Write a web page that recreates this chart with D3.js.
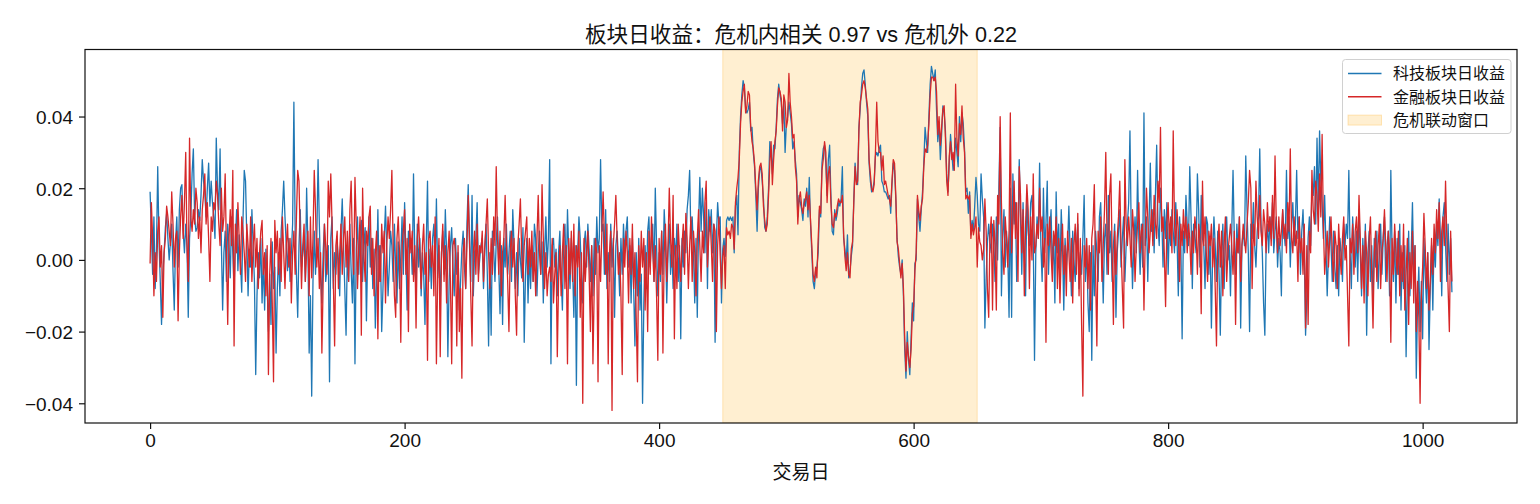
<!DOCTYPE html>
<html>
  <head>
    <meta charset="utf-8" />
    <title>板块日收益</title>
    <style>
      html,
      body {
        margin: 0;
        padding: 0;
        background: #fff;
      }
      svg text {
        font-family: 'Liberation Sans', 'Noto Sans CJK SC', sans-serif;
        fill: #111;
      }
    </style>
  </head>
  <body>
    <svg id="svg" width="1540" height="504"></svg>
    <script src="https://cdn.jsdelivr.net/npm/d3@7"></script>
    <script>
      // daily returns, in thousandths (‰), index = trading day
      const techPre = [
        19, 8, -4, 12, -8, 3, 26, 5, -6, -18, -4, 2, 9, 13, 6, 0, 5, 10, -3, -14,
        5, 12, -2, 14, 20, 21, 8, 2, 10, 4, -16, 6, 12, 24, 31, 12, 8, 9, 14, 11,
        18, 28, 22, 19, 12, 20, 27, 15, 22, 16, 12, 6, 34, 20, 14, 31, 5, -14, 2, 8,
        -6, 10, 4, -5, 12, 2, -8, 5, 14, -3, 7, 0, -9, 11, 25, 22, 6, -10, 3, -2,
        14, 4, -6, -32, -10, 2, -5, 6, -12, 0, -14, 3, -7, -20, -4, -18, 5, -8, -2, -26,
        -8, 2, -10, 8, 14, 22, 12, 4, -3, 6, -6, 2, 10, 44, 8, -4, -16, 4, 14, -2,
        2, 6, -6, 20, 4, -26, -10, -38, -6, 8, -4, 6, 28, 10, -4, -12, 2, 10, -6, -2,
        4, -34, 6, 12, -8, 2, -4, 5, 0, -10, 8, 17, 4, -8, -21, 2, -6, 10, -3, -12,
        6, -29, 3, 12, -4, 8, 11, -6, 4, 9, -17, 2, 12, -2, 6, -8, 3, -19, -4, 14,
        -6, 4, -20, -8, 6, 15, 2, -10, -2, 8, 4, -6, 10, -3, -12, 5, -8, 1, 12, -4,
        16, 2, -14, 8, 3, 6, -4, 24, 2, -8, 10, -2, 6, -10, 2, -4, -18, 4, 22, -6,
        3, -8, 6, 10, -2, 17, -5, 4, -12, 2, 8, -4, 14, 2, -27, -6, 4, 9, -2, -10,
        6, -4, 2, -14, -6, 3, 8, -2, -8, 10, 21, 4, -6, 18, -10, 2, 6, 16, -4, 0,
        4, 6, -8, 2, 10, -4, -24, 2, -21, 8, 3, -6, 5, 12, -2, -15, 4, -18, 6, -2,
        10, -4, 2, 8, -6, 14, 4, -8, 2, -10, 6, 0, -5, 9, -23, -4, 6, -12, 2, -8,
        4, -6, 10, 6, -10, 2, 8, -4, 5, -12, 2, 12, -2, 6, 28, -29, 4, 6, -2, 3,
        -10, 2, 8, -4, -14, 6, 10, -6, 14, 2, -8, 6, -2, -16, 4, -35, 2, 12, 6, -4,
        -12, 4, 8, -2, 10, 3, -6, 4, -10, 6, -4, 12, 2, 6, 28, 8, 10, -4, 14, -8,
        2, -6, 10, -2, 6, -16, 4, 8, 0, -10, 6, -4, 10, 2, 8, 12, -2, 4, -12, 6,
        -8, -24, 2, -10, 6, -14, -4, -40, -12, 4, -8, 8, 12, -2, 6, 10, -6, 20, 4, -10,
        2, -6, 8, -4, 14, 6, -12, 2, 10, -4, 4, -8, 6, 0, 10, -6, 4, -22, 6, -2,
        8, 2, 14, 18, 25, 6, 12, 2, -12, 6, -16, 10, 23, 8, 20, 12, 2, 16, -8, 14,
        8, 14, 2, 10, -23, 6, 16, 10, 12, -12
      ];
      const techCrisis = [
        3, 6, 1, 11, 12, 11, 12, 11, 12, 2,
        15, 18, 7, 30, 40, 46, 50, 48, 42, 41,
        42, 44, 36, 37, 30, 26, 18, 8, 20, 25,
        26, 22, 17, 9, 8, 12, 20, 33, 30, 24,
        32, 31, 37, 45, 49, 46, 44, 38, 44, 30,
        38, 40, 44, 41, 38, 31, 33, 28, 24, 12,
        18, 16, 14, 11, 17, 15, 20, 12, 23, 10,
        2, -6, -8, -3, -2, 2, 14, 12, 27, 31,
        32, 27, 18, 28, 32, 18, 8, 7, 14, 11,
        13, 16, 15, 17, 26, 6, 3, -1, 7, -5,
        -3, 1, 4, 17, 27, 22, 21, 37, 42, 48,
        52, 53, 49, 44, 40, 27, 22, 19, 20, 22,
        29, 30, 29, 31, 32, 22, 21, 19, 19, 18,
        17, 18, 13, 21, 27, 25, 17, 6, 1, -2,
        -4, 0, -10, -25, -33, -20, -28, -32, -22, -12,
        -17, -1, 0, 17, 12, 8, 14, 19, 27, 37,
        33, 30, 40, 49, 54, 52, 50, 53, 42, 33,
        38, 28, 35, 43, 41, 36, 24, 19, 27, 35,
        30, 25, 27, 34, 30, 26, 40, 33, 41, 38,
        31, 19, 20, 13, 19, 7, 11, 8, 15, 23, 18
      ];
      const techPost = [
        10, 8, 24, 17, 12, -19, -5, 5, 10, 5, 2, 10, 5,
        -6, 12, 0, 20, 37, -10, 6, 14, -2, 8, 2, -16, 20, -16, 24, 10, 16, -6,
        4, 28, 12, -4, 16, 2, -10, 18, 8, 4, 16, 18, 6, -28, 2, 12, 6, 27,
        4, -6, 20, 2, 10, 22, -4, 8, 14, -2, 6, -12, 19, 2, 10, -4, 14, 4, -14, 6,
        -2, 4, 15, 2, -10, 8, 0, -6, 4, 10, -8, 2, -4, 6, 18, -6, 4, -12, -20, 2,
        -28, 4, -10, 8, 2, -6, 12, 16, 4, -12, 6, 10, -4, 18, 2, 8, -6, 4, 10, -16,
        2, 8, 14, -2, 6, 12, -6, 4, 10, 16, 36, 8, -8, 4, 12, 2, 25, 6, -4, 10,
        -2, 41, 4, 12, -6, 10, 27, 8, 14, 2, 18, 32, 10, 4, 20, 12, -2, 14, 6, 16,
        -4, 10, 4, 14, 8, 2, 16, 6, -10, 12, 4, -22, 8, 2, 18, 10, 4, 26, 12, -8,
        10, 6, 2, 24, 14, -2, 18, 6, 4, -8, 12, 10, -4, 6, -19, 2, 12, 4, -6, 8,
        -4, -21, 2, 10, -8, 6, 12, 0, 4, -10, 8, 25, 6, -4, 10, 2, 12, -19, 4, 8,
        4, 29, 14, 2, -20, 10, 6, 16, 4, -2, 8, 12, 31, 10, 2, -12, -21, 4, 10, 2,
        12, 6, 16, 2, 8, 12, -2, 6, 2, -10, 14, 8, 4, 25, 6, 12, -2, 10, 16, 4,
        10, 25, 6, 12, -4, 8, 14, 2, -21, -10, 6, 12, 4, 20, 18, 26, 10, 34, 14, 36,
        22, 16, 6, 18, 4, -10, 2, 12, 4, -6, 8, -2, -8, 4, -10, 6, 2, -6, 10, 4,
        10, 6, 25, 2, -8, 12, 4, -2, 8, -6, 14, 2, -10, 6, -4, 10, -21, 2, 8, -6,
        4, -12, 6, -2, 8, -8, 2, 10, -4, 6, 12, -6, 4, 8, -10, 25, 2, -6, 8, -12,
        6, -4, 10, -14, 2, -8, 4, -27, -6, 8, -10, 2, 16, -4, 4, -33, -12, -2, -20, -6,
        -22, 6, -4, -12, 2, -25, -8, 4, -14, 6, -2, 10, 4, 17, 6, -10, 12, 16, 4, -6,
        10, -4, 6, -9
      ];

      const finPre = [
        -1, 16, 6, -10, 2, -6, 8, 12, -2, 4, -16, 2, 6, 15, 12, 8, 4, 19, 10, -2,
        6, 8, -17, 2, 12, 18, 6, 16, 30, 4, -6, 34, 12, 8, 14, 10, 20, 16, 6, 12,
        2, 14, 18, 24, 10, 16, 6, -6, 12, 8, 16, 14, 22, 18, 10, 4, 20, 8, 12, 24,
        2, -18, 6, 14, 4, 25, -24, 10, 2, 16, 6, -4, 12, 8, 2, -6, 10, 4, -2, 12,
        -6, 4, 10, -2, 6, -8, 2, 8, 11, -4, 2, -10, 4, -32, -4, 6, -12, -34, 11, 2,
        8, -4, 6, -6, 12, 2, -8, 4, 10, -2, 6, -12, 2, 8, -4, 12, 25, 22, 6, -8,
        4, 10, -6, 2, 8, -10, 12, -5, 6, 25, 14, -2, 6, -8, 2, -26, -6, 10, 4, -4,
        22, 12, 24, 10, -6, -24, 4, 8, -8, 2, 10, -4, 6, 12, -2, 8, -6, 14, 22, 4,
        -4, 23, 10, -8, 4, 12, -21, 20, 2, -6, 8, 4, 12, 15, -4, 6, -10, 2, 8, -22,
        4, -6, 10, 2, 8, -12, 4, 12, 6, 14, 25, 4, -10, -16, 6, 12, 2, -23, 4, 8,
        14, -4, 6, -20, 10, 2, 8, -6, 4, -19, 6, 12, 2, -8, 4, 10, -4, 2, -28, 6,
        8, -2, 4, -10, 12, -29, -4, 6, -27, 2, 10, -6, 4, -12, 2, 8, -6, -29, 4, 6,
        2, -24, 4, -20, -8, -33, 2, 6, -8, 4, 18, 6, -10, -24, 2, 8, -4, 10, -6, 4,
        2, 8, -6, 4, 10, 17, 2, -8, 6, -4, 12, 4, 26, 6, -4, 8, -10, 2, 6, 18,
        4, -6, -20, 2, 8, -2, 6, -10, -21, 4, 10, 17, 2, -6, 4, 8, 12, -4, 6, -2,
        8, -6, 2, -10, 6, 18, 2, -4, 21, 6, -8, 2, -10, -4, -2, -6, 6, -12, -4, 2,
        -27, -6, 4, -10, 2, 10, -8, 4, -29, 6, -4, 8, -6, 10, -10, 4, -2, 8, -16, 2,
        -40, 6, -6, 2, 8, -4, -20, 4, -29, -8, 6, 2, -34, 4, -6, 8, 19, 6, -4, 10,
        -29, 2, 8, -42, 4, 10, 18, 6, -4, 2, -10, -32, 6, -2, 8, 2, -12, 6, -4, 10,
        -8, 2, -16, -34, 4, -6, 8, -2, 6, -14, 2, -20, 8, -4, 12, 2, -6, 4, -10, -28,
        6, -4, 8, -26, 2, 10, -6, 4, 20, 6, -2, 18, -22, 4, -8, 10, 2, -6, 4, 10,
        -4, 13, 6, -8, 4, 12, -6, 8, 2, -10, 6, 14, 4, -6, 8, 2, 16, 22, -2, 6,
        12, 4, -6, 10, 8, -20, 4, 12, 1, -8
      ];
      const finCrisis = [
        1, 4, -8, 9, 7, 8, 6, 10, 9, 3,
        16, 20, 23, 28, 38, 44, 47, 49, 41, 43,
        47, 46, 37, 33, 31, 27, 20, 14, 22, 26,
        27, 24, 15, 11, 8, 10, 18, 27, 33, 21,
        28, 33, 36, 43, 48, 47, 45, 36, 46, 44,
        37, 39, 52, 44, 40, 34, 35, 26, 22, 10,
        17, 19, 15, 13, 16, 17, 19, 14, 18, 11,
        4, -4, -6, -2, -5, 6, 15, 13, 25, 28,
        33, 30, 16, 24, 26, 16, 10, 9, 13, 12,
        15, 17, 16, 16, 18, 7, 1, -3, 2, -4,
        -5, 3, 5, 16, 26, 21, 22, 36, 44, 46,
        49, 50, 48, 45, 42, 28, 24, 20, 19, 21,
        30, 44, 33, 30, 30, 25, 29, 21, 22, 20,
        18, 17, 15, 22, 28, 27, 18, 5, 3, -1,
        -5, -1, -8, -22, -31, -23, -27, -30, -25, -15,
        -13, -3, 2, 18, 14, 11, 15, 17, 26, 31,
        30, 32, 38, 46, 51, 51, 50, 51, 47, 35,
        40, 32, 37, 42, 43, 34, 22, 18, 29, 33,
        28, 30, 25, 49, 34, 29, 38, 35, 43, 34,
        30, 17, 18, 17, 18, 6, 10, 7, 9, 12, -2
      ];
      const finPost = [
        9, 5, 4, 0, 3, 17, 8, -8, -16, 7, 12, -14, 11,
        4, -14, 18, 10, 40, 16, 2, -4, 12, 6, -2, 8, 41, 2, 10, 22, 6, 16,
        -6, 26, 18, 2, 14, -10, 10, 21, 14, -8, 12, 0, 24, 2, 4, 10, 6, 20,
        8, 12, -2, 6, -23, 10, 4, 12, 2, -6, 8, 4, 12, -8, 6, -12, 2, 10, -4, 4,
        -10, 8, 2, -6, 6, -12, 4, 10, -4, 13, -10, 6, -18, -38, 4, -2, 6, -8, 4, -14,
        6, 10, 21, -4, -24, 8, 2, 12, -6, 4, 14, 30, 6, -4, 18, 24, 2, -18, 8, -4,
        6, 12, 22, 4, -8, -19, 28, 10, 4, 12, 6, -2, 14, 8, -6, 4, 10, 16, 2, 8,
        10, -14, 6, 20, 12, 2, 8, 14, 4, 18, 10, 6, 22, 16, 37, 8, 12, 2, -13, 10,
        16, 6, 12, 2, 36, 10, 4, 14, 8, -6, 10, 4, 14, 6, 12, 2, 10, 6, -4, 8,
        2, 12, 8, -4, 10, 6, -15, 22, 4, 12, 2, -6, 8, 4, 10, -2, 6, -8, -24, 4,
        10, -2, 8, -10, 4, 12, -6, 2, 6, 10, 4, -4, 8, -18, 6, 2, 12, -6, 4, 10,
        6, 2, 10, 16, 25, 20, -8, 10, 4, 22, 12, 6, 18, 8, 4, 14, 10, 2, 16, 8,
        12, 4, 18, 6, 29, 10, 2, 12, 4, 8, 14, 6, 10, 2, 16, 8, 31, 6, 2, 12,
        4, 8, -6, 12, 2, 6, -4, 10, -19, 4, -18, 8, 2, 25, 14, 10, 22, 18, 8, 24,
        12, 35, 10, -4, 2, 8, -2, 6, 12, 2, -6, 8, 4, -8, 10, 2, -4, 6, 12, 0,
        4, -10, -24, 6, 2, 10, -4, 8, 12, 2, 18, 6, -8, 4, -12, 8, 2, -10, 6, 12,
        -4, -19, 2, 8, -6, 4, 10, -8, 2, 6, 14, 4, -6, 8, 2, -23, 6, -4, 10, 2,
        -4, 8, -10, 4, -6, 10, -14, -4, 6, -18, 2, -8, 8, -12, 4, -20, -6, -16, -40, -10,
        -2, 13, 4, -8, 2, -14, -6, 6, -4, 10, 2, 14, 6, 16, -6, 8, 12, 4, 22, 6,
        -8, -20, 8, -6
      ];

      const crisisWindow = [450, 650];
      const xTicks = [0, 200, 400, 600, 800, 1000];
      const yTicks = [-0.04, -0.02, 0, 0.02, 0.04];
      const seriesNames = ['科技板块日收益', '金融板块日收益', '危机联动窗口'];
      const titleText = '板块日收益：危机内相关 0.97 vs 危机外 0.22';
      const xLabel = '交易日';

      const tech = techPre.concat(techCrisis, techPost).map((v) => v / 1000);
      const fin = finPre.concat(finCrisis, finPost).map((v) => v / 1000);

      const blue = '#1f77b4';
      const red = '#d62728';
      const orange = '#ffa500';

      const plotLeft = 85;
      const plotRight = 1517;
      const plotTop = 49.5;
      const plotBottom = 423;

      const n = tech.length;
      const pad = (n - 1) * 0.05;
      const xScale = d3
        .scaleLinear()
        .domain([-pad, n - 1 + pad])
        .range([plotLeft, plotRight]);
      const yScale = d3
        .scaleLinear()
        .domain([-0.0455, 0.0587])
        .range([plotBottom, plotTop]);

      const svg = d3.select('#svg');
      svg.append('rect').attr('width', 1540).attr('height', 504).attr('fill', '#fff');

      svg
        .append('clipPath')
        .attr('id', 'plot-clip')
        .append('rect')
        .attr('x', plotLeft)
        .attr('y', plotTop)
        .attr('width', plotRight - plotLeft)
        .attr('height', plotBottom - plotTop);

      const plot = svg.append('g').attr('clip-path', 'url(#plot-clip)');

      // crisis window band
      plot
        .append('rect')
        .attr('x', xScale(crisisWindow[0]))
        .attr('y', plotTop)
        .attr('width', xScale(crisisWindow[1]) - xScale(crisisWindow[0]))
        .attr('height', plotBottom - plotTop)
        .attr('fill', orange)
        .attr('fill-opacity', 0.18)
        .attr('stroke', orange)
        .attr('stroke-opacity', 0.2)
        .attr('stroke-width', 1.2);

      const linegen = d3
        .line()
        .x((d, i) => xScale(i))
        .y((d) => yScale(d));

      plot
        .append('path')
        .attr('d', linegen(tech))
        .attr('fill', 'none')
        .attr('stroke', blue)
        .attr('stroke-width', 1.3)
        .attr('stroke-linejoin', 'round');

      plot
        .append('path')
        .attr('d', linegen(fin))
        .attr('fill', 'none')
        .attr('stroke', red)
        .attr('stroke-width', 1.3)
        .attr('stroke-linejoin', 'round');

      // axes
      const xAxis = svg
        .append('g')
        .attr('transform', `translate(0,${plotBottom})`)
        .call(
          d3.axisBottom(xScale).tickValues(xTicks).tickSize(6).tickPadding(5).tickFormat(d3.format('d'))
        );
      const yAxis = svg
        .append('g')
        .attr('transform', `translate(${plotLeft},0)`)
        .call(
          d3.axisLeft(yScale).tickValues(yTicks).tickSize(6).tickPadding(6).tickFormat(d3.format('.2f'))
        );

      [xAxis, yAxis].forEach((g) => {
        g.select('.domain').remove();
        g.selectAll('.tick line').attr('stroke', '#111').attr('stroke-width', 1.2);
        g.selectAll('.tick text').attr('font-size', 19).attr('fill', '#111');
      });
      yAxis.selectAll('.tick text').attr('dy', '0.36em');

      // frame
      svg
        .append('rect')
        .attr('x', plotLeft)
        .attr('y', plotTop)
        .attr('width', plotRight - plotLeft)
        .attr('height', plotBottom - plotTop)
        .attr('fill', 'none')
        .attr('stroke', '#111')
        .attr('stroke-width', 1.2);

      svg
        .append('text')
        .attr('x', (plotLeft + plotRight) / 2)
        .attr('y', 41.5)
        .attr('text-anchor', 'middle')
        .attr('font-size', 21.6)
        .text(titleText);

      svg
        .append('text')
        .attr('x', (plotLeft + plotRight) / 2)
        .attr('y', 479)
        .attr('text-anchor', 'middle')
        .attr('font-size', 19)
        .text(xLabel);

      // legend
      const legend = svg.append('g').attr('transform', 'translate(1342.5,59.5)');
      legend
        .append('rect')
        .attr('width', 168.5)
        .attr('height', 74)
        .attr('rx', 3)
        .attr('fill', '#fff')
        .attr('fill-opacity', 0.8)
        .attr('stroke', '#d0d0d0')
        .attr('stroke-width', 1);

      const rows = [
        { name: seriesNames[0], kind: 'line', color: blue },
        { name: seriesNames[1], kind: 'line', color: red },
        { name: seriesNames[2], kind: 'patch', color: orange }
      ];
      const item = legend
        .selectAll('g.item')
        .data(rows)
        .enter()
        .append('g')
        .attr('class', 'item')
        .attr('transform', (d, i) => `translate(0,${14 + i * 23.3})`);

      item
        .filter((d) => d.kind === 'line')
        .append('line')
        .attr('x1', 5.5)
        .attr('x2', 39)
        .attr('stroke', (d) => d.color)
        .attr('stroke-width', 1.6);

      item
        .filter((d) => d.kind === 'patch')
        .append('rect')
        .attr('x', 5.5)
        .attr('y', -5)
        .attr('width', 33.5)
        .attr('height', 10)
        .attr('fill', orange)
        .attr('fill-opacity', 0.18)
        .attr('stroke', orange)
        .attr('stroke-opacity', 0.25);

      item
        .append('text')
        .attr('x', 50.5)
        .attr('dy', '0.36em')
        .attr('font-size', 16)
        .text((d) => d.name);
    </script>
  </body>
</html>
